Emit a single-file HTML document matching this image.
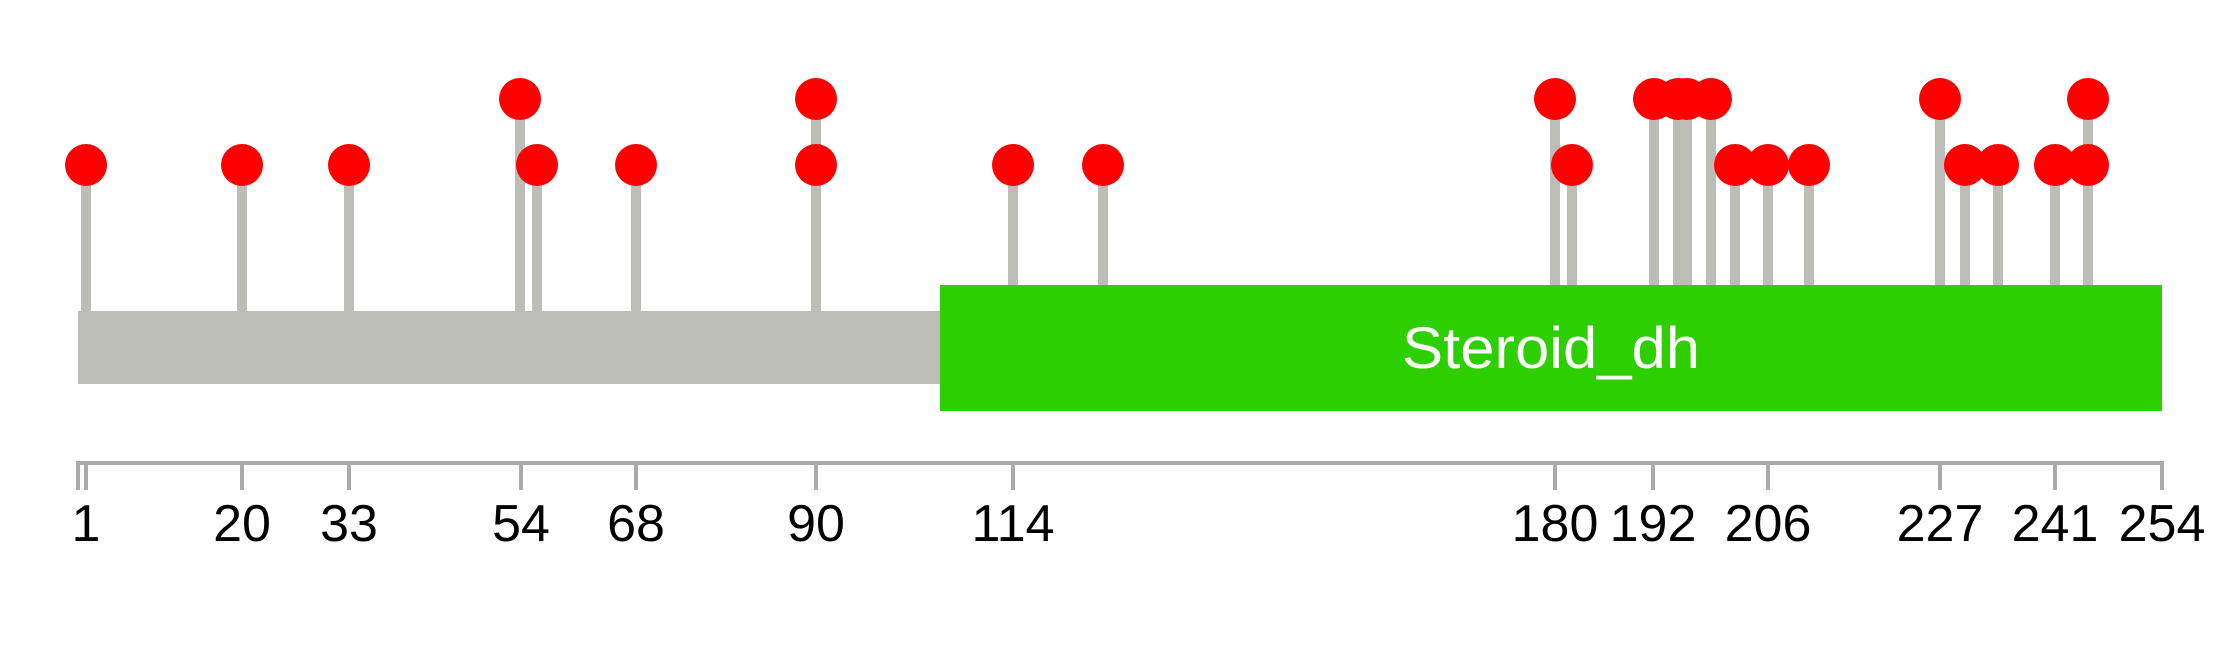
<!DOCTYPE html>
<html><head><meta charset="utf-8"><style>
html,body{margin:0;padding:0;background:#fff;}
</style></head><body>
<svg width="2239" height="645" xmlns="http://www.w3.org/2000/svg" style="display:block">
<rect width="2239" height="645" fill="#fff"/>
<g stroke="#BBBDB6" stroke-width="10">
<line x1="86" y1="165" x2="86" y2="311"/>
<line x1="242" y1="165" x2="242" y2="311"/>
<line x1="349" y1="165" x2="349" y2="311"/>
<line x1="520" y1="99" x2="520" y2="311"/>
<line x1="537" y1="165" x2="537" y2="311"/>
<line x1="636" y1="165" x2="636" y2="311"/>
<line x1="816" y1="99" x2="816" y2="311"/>
<line x1="1013" y1="165" x2="1013" y2="285"/>
<line x1="1103" y1="165" x2="1103" y2="285"/>
<line x1="1555" y1="99" x2="1555" y2="285"/>
<line x1="1572" y1="165" x2="1572" y2="285"/>
<line x1="1654" y1="99" x2="1654" y2="285"/>
<line x1="1678" y1="99" x2="1678" y2="285"/>
<line x1="1687" y1="99" x2="1687" y2="285"/>
<line x1="1711" y1="99" x2="1711" y2="285"/>
<line x1="1735" y1="165" x2="1735" y2="285"/>
<line x1="1768" y1="165" x2="1768" y2="285"/>
<line x1="1809" y1="165" x2="1809" y2="285"/>
<line x1="1940" y1="99" x2="1940" y2="285"/>
<line x1="1965" y1="165" x2="1965" y2="285"/>
<line x1="1998" y1="165" x2="1998" y2="285"/>
<line x1="2055" y1="165" x2="2055" y2="285"/>
<line x1="2088" y1="99" x2="2088" y2="285"/>
</g>
<rect x="78" y="311" width="870" height="73" fill="#BBBDB6"/>
<rect x="940" y="285" width="1222" height="126" fill="#2ECF00"/>
<text x="1402" y="368" font-family="Liberation Sans, sans-serif" font-size="58" fill="#fff" textLength="298" lengthAdjust="spacingAndGlyphs">Steroid_dh</text>
<g fill="#FF0000">
<circle cx="86" cy="165" r="21"/>
<circle cx="242" cy="165" r="21"/>
<circle cx="349" cy="165" r="21"/>
<circle cx="520" cy="99" r="21"/>
<circle cx="537" cy="165" r="21"/>
<circle cx="636" cy="165" r="21"/>
<circle cx="816" cy="99" r="21"/>
<circle cx="816" cy="165" r="21"/>
<circle cx="1013" cy="165" r="21"/>
<circle cx="1103" cy="165" r="21"/>
<circle cx="1555" cy="99" r="21"/>
<circle cx="1572" cy="165" r="21"/>
<circle cx="1654" cy="99" r="21"/>
<circle cx="1678" cy="99" r="21"/>
<circle cx="1687" cy="99" r="21"/>
<circle cx="1711" cy="99" r="21"/>
<circle cx="1735" cy="165" r="21"/>
<circle cx="1768" cy="165" r="21"/>
<circle cx="1809" cy="165" r="21"/>
<circle cx="1940" cy="99" r="21"/>
<circle cx="1965" cy="165" r="21"/>
<circle cx="1998" cy="165" r="21"/>
<circle cx="2055" cy="165" r="21"/>
<circle cx="2088" cy="165" r="21"/>
<circle cx="2088" cy="99" r="21"/>
</g>
<g stroke="#AAAAAA" stroke-width="4">
<line x1="78" y1="463" x2="2162" y2="463"/>
<line x1="78" y1="461" x2="78" y2="490"/>
<line x1="86" y1="461" x2="86" y2="490"/>
<line x1="242" y1="461" x2="242" y2="490"/>
<line x1="349" y1="461" x2="349" y2="490"/>
<line x1="521" y1="461" x2="521" y2="490"/>
<line x1="636" y1="461" x2="636" y2="490"/>
<line x1="816" y1="461" x2="816" y2="490"/>
<line x1="1013" y1="461" x2="1013" y2="490"/>
<line x1="1555" y1="461" x2="1555" y2="490"/>
<line x1="1653" y1="461" x2="1653" y2="490"/>
<line x1="1768" y1="461" x2="1768" y2="490"/>
<line x1="1940" y1="461" x2="1940" y2="490"/>
<line x1="2055" y1="461" x2="2055" y2="490"/>
<line x1="2162" y1="461" x2="2162" y2="490"/>
</g>
<g font-family="Liberation Sans, sans-serif" font-size="52" fill="#000" text-anchor="middle">
<text x="86" y="541">1</text>
<text x="242" y="541">20</text>
<text x="349" y="541">33</text>
<text x="521" y="541">54</text>
<text x="636" y="541">68</text>
<text x="816" y="541">90</text>
<text x="1013" y="541">114</text>
<text x="1555" y="541">180</text>
<text x="1653" y="541">192</text>
<text x="1768" y="541">206</text>
<text x="1940" y="541">227</text>
<text x="2055" y="541">241</text>
<text x="2162" y="541">254</text>
</g>
</svg>
</body></html>
